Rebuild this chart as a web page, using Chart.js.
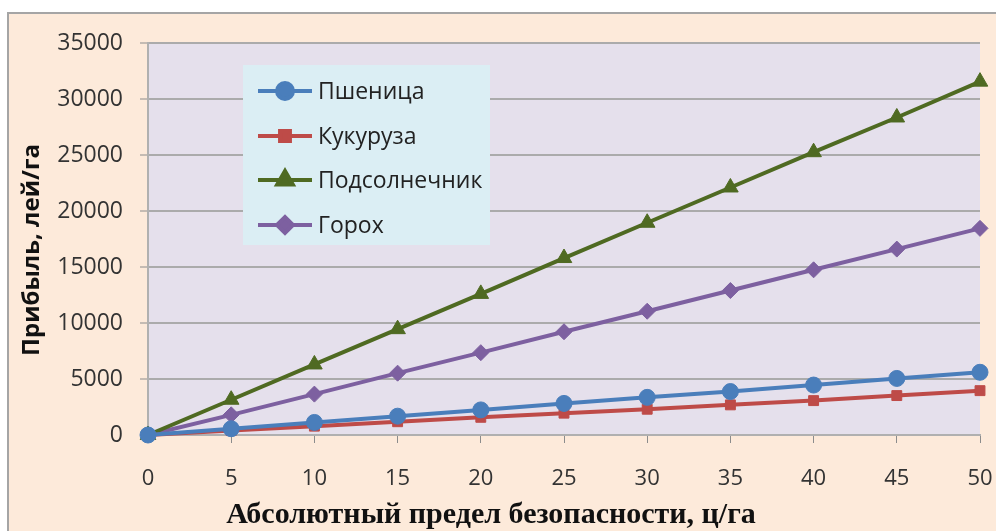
<!DOCTYPE html>
<html>
<head>
<meta charset="utf-8">
<script src="https://cdn.jsdelivr.net/npm/chart.js@4"></script>
<style>
    html, body { margin: 0; padding: 0; background: #ffffff; overflow: hidden; }
    #frame {
        position: absolute; left: 7px; top: 12px; width: 1000px; height: 530px;
        background: #fdeada; border: 2px solid #a5a5a5;
    }
    #wrap { position: absolute; left: 0; top: 0; width: 996px; height: 531px; }
</style>
</head>
<body>
<div id="frame"></div>
<div id="wrap"><canvas id="chart" width="996" height="531"></canvas></div>
<script>
// Chart data
const xLabels = ['0', '5', '10', '15', '20', '25', '30', '35', '40', '45', '50'];
const wheat = [0, 560, 1120, 1680, 2240, 2820, 3360, 3880, 4460, 5050, 5600];
const corn = [0, 395, 790, 1185, 1580, 1950, 2300, 2690, 3070, 3520, 3960];
const sunflower = [0, 3150, 6300, 9450, 12600, 15800, 18950, 22100, 25250, 28350, 31550];
const peas = [0, 1800, 3650, 5520, 7350, 9220, 11050, 12900, 14750, 16600, 18450];
const seriesNames = ['Пшеница', 'Кукуруза', 'Подсолнечник', 'Горох'];
const yTicks = [0, 5000, 10000, 15000, 20000, 25000, 30000, 35000];

const colors = ['#4a7ebb', '#be4b48', '#4f6a22', '#7d60a0'];
const markers = ['circle', 'rect', 'triangle', 'rectRot'];
const markerSizes = [8, 7, 9, 8];

const makeSet = (i, data) => ({
    label: seriesNames[i],
    data: data,
    borderColor: colors[i],
    backgroundColor: colors[i],
    borderWidth: 4,
    pointStyle: markers[i],
    pointRadius: markerSizes[i],
    pointBorderWidth: 1,
    pointBorderColor: colors[i],
    tension: 0,
    clip: false
});

// Plot area background, legend box, x tick labels and axis titles
const decorPlugin = {
    id: 'decor',
    beforeDraw(chart) {
        const { ctx, chartArea: a } = chart;
        ctx.save();
        ctx.fillStyle = '#e5e0ec';
        ctx.fillRect(a.left, a.top, a.right - a.left, a.bottom - a.top);
        ctx.restore();
    },
    afterDatasetsDraw(chart) {
        const { ctx, chartArea: a } = chart;
        const xScale = chart.scales.x;
        ctx.save();
        // x tick labels
        ctx.fillStyle = '#333333';
        ctx.font = '22px "Open Sans"';
        ctx.textAlign = 'center';
        ctx.textBaseline = 'middle';
        xLabels.forEach((lab, i) => {
            ctx.fillText(lab, xScale.getPixelForValue(i), a.bottom + 44);
        });
        // legend
        ctx.fillStyle = '#dbeef4';
        ctx.fillRect(243, 65, 247, 180);
        const rows = [91, 136, 180, 225];
        chart.data.datasets.forEach((ds, i) => {
            const y = rows[i];
            ctx.strokeStyle = ds.borderColor;
            ctx.lineWidth = 4;
            ctx.beginPath();
            ctx.moveTo(258, y);
            ctx.lineTo(312, y);
            ctx.stroke();
            ctx.fillStyle = ds.backgroundColor;
            Chart.helpers.drawPoint(ctx, {
                pointStyle: ds.pointStyle,
                radius: ds.pointRadius,
                borderWidth: 1
            }, 285, y);
            ctx.fillStyle = '#222222';
            ctx.font = '23px "Open Sans"';
            ctx.textBaseline = 'middle';
            ctx.textAlign = 'left';
            ctx.fillText(ds.label, 318, y + 1);
        });
        // axis titles
        ctx.fillStyle = '#111111';
        ctx.font = 'bold 30px "Liberation Serif"';
        ctx.textAlign = 'center';
        ctx.textBaseline = 'middle';
        ctx.fillText('Абсолютный предел безопасности, ц/га', 491, 515);
        ctx.translate(32, 250);
        ctx.rotate(-Math.PI / 2);
        ctx.font = 'bold 24px "Open Sans"';
        ctx.fillText('Прибыль, лей/га', 0, 0);
        ctx.restore();
    }
};

new Chart(document.getElementById('chart'), {
    type: 'line',
    data: {
        labels: xLabels,
        datasets: [
            makeSet(0, wheat),
            makeSet(1, corn),
            makeSet(2, sunflower),
            makeSet(3, peas)
        ]
    },
    options: {
        responsive: false,
        animation: false,
        layout: { padding: { top: 43, right: 16, left: 0, bottom: 0 } },
        plugins: {
            legend: { display: false },
            tooltip: { enabled: false }
        },
        scales: {
            x: {
                type: 'category',
                offset: false,
                afterFit: (s) => { s.height = 96; },
                grid: {
                    display: true,
                    drawOnChartArea: false,
                    drawTicks: true,
                    tickLength: 8,
                    color: '#8c8c8c',
                    lineWidth: 1
                },
                border: { display: true, color: '#b0b0b0', width: 2 },
                ticks: { display: false, autoSkip: false }
            },
            y: {
                min: 0,
                max: 35000,
                afterFit: (s) => { s.width = 148; },
                afterBuildTicks: (s) => { s.ticks = yTicks.map(v => ({ value: v })); },
                grid: {
                    color: '#ababab',
                    lineWidth: 2,
                    tickLength: 8,
                    tickColor: '#8c8c8c',
                    tickWidth: 1
                },
                border: { display: true, color: '#b0b0b0', width: 2 },
                ticks: {
                    color: '#333333',
                    font: { family: '"Open Sans"', size: 23 },
                    padding: 17,
                    callback: (v) => String(v)
                }
            }
        }
    },
    plugins: [decorPlugin]
});
</script>
</body>
</html>
